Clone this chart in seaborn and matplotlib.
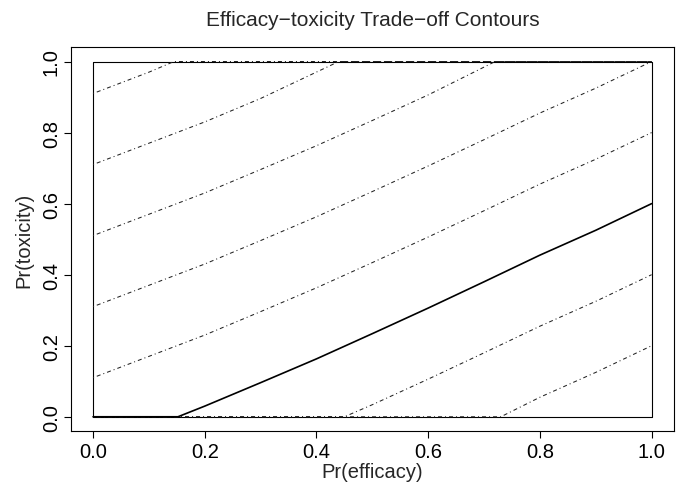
import matplotlib
matplotlib.use("Agg")
import matplotlib.pyplot as plt
import seaborn as sns
import pandas as pd

# contour, one list pair per line (clipped to the unit square)
solid_x = [0.0, 0.152, 0.2, 0.3, 0.4, 0.5, 0.6, 0.7, 0.8, 0.9, 1.0]
solid_y = [0.0, 0.0, 0.03, 0.096, 0.163, 0.234, 0.306, 0.38, 0.455, 0.525, 0.6]

e_x = [0.0, 0.1, 0.2, 0.3, 0.4, 0.5, 0.6, 0.7, 0.8, 0.9, 1.0]
e_y = [0.11, 0.17, 0.23, 0.296, 0.363, 0.434, 0.506, 0.58, 0.655, 0.725, 0.8]

d_x = [0.0, 0.1, 0.2, 0.3, 0.4, 0.5, 0.6, 0.7, 0.8, 0.9, 1.0]
d_y = [0.31, 0.37, 0.43, 0.496, 0.563, 0.634, 0.706, 0.78, 0.855, 0.925, 1.0]

c_x = [0.0, 0.1, 0.2, 0.3, 0.4, 0.5, 0.6, 0.72, 1.0]
c_y = [0.51, 0.57, 0.63, 0.696, 0.763, 0.834, 0.906, 1.0, 1.0]

b_x = [0.0, 0.1, 0.2, 0.3, 0.44, 1.0]
b_y = [0.71, 0.77, 0.83, 0.896, 1.0, 1.0]

a_x = [0.0, 0.1, 0.145, 1.0]
a_y = [0.91, 0.97, 1.0, 1.0]

f_x = [0.0, 0.45, 0.5, 0.6, 0.7, 0.8, 0.9, 1.0]
f_y = [0.0, 0.0, 0.034, 0.106, 0.18, 0.255, 0.325, 0.4]

g_x = [0.0, 0.73, 0.8, 0.9, 1.0]
g_y = [0.0, 0.0, 0.055, 0.125, 0.2]

box_x = [0.0, 1.0, 1.0, 0.0, 0.0]
box_y = [0.0, 0.0, 1.0, 1.0, 0.0]

ticks = [0.0, 0.2, 0.4, 0.6, 0.8, 1.0]
tick_labels = ["0.0", "0.2", "0.4", "0.6", "0.8", "1.0"]

sns.set_style("white")
plt.rcParams['font.family'] = ['Liberation Sans', 'DejaVu Sans']

fig = plt.figure(figsize=(6.83, 4.89), dpi=100)
ax = fig.add_axes([0.1035, 0.1166, 0.8833, 0.7846])

dotdash = (0, (0.96, 2.88, 3.84, 2.88))

sns.lineplot(x=box_x, y=box_y, sort=False, estimator=None, ax=ax, color="black", linewidth=0.8)
for xs, ys in [(a_x, a_y), (b_x, b_y), (c_x, c_y), (d_x, d_y), (e_x, e_y), (f_x, f_y), (g_x, g_y)]:
    sns.lineplot(x=xs, y=ys, sort=False, estimator=None, ax=ax, color="#222222",
                 linewidth=0.75, linestyle=dotdash)
sns.lineplot(x=solid_x, y=solid_y, sort=False, estimator=None, ax=ax, color="black", linewidth=1.2)

ax.set_xlim(-0.04, 1.04)
ax.set_ylim(-0.04, 1.04)
ax.set_xticks(ticks)
ax.set_xticklabels(tick_labels)
ax.set_yticks(ticks)
ax.set_yticklabels(tick_labels, rotation=90, va="center")
ax.tick_params(direction="out", length=5, width=0.8, colors="black", labelsize=14.5, pad=3,
               bottom=True, left=True)
ax.tick_params(axis="y", pad=2)
for s in ax.spines.values():
    s.set_color("black")
    s.set_linewidth(0.8)

ax.set_xlabel("Pr(efficacy)", fontsize=14.5, labelpad=1)
ax.set_ylabel("Pr(toxicity)", fontsize=14.5)
ax.yaxis.set_label_coords(-0.0625, 0.5)
ax.set_title("Efficacy\u2212toxicity Trade\u2212off Contours", fontsize=15, pad=16)

fig.savefig("out.png", dpi=100)
